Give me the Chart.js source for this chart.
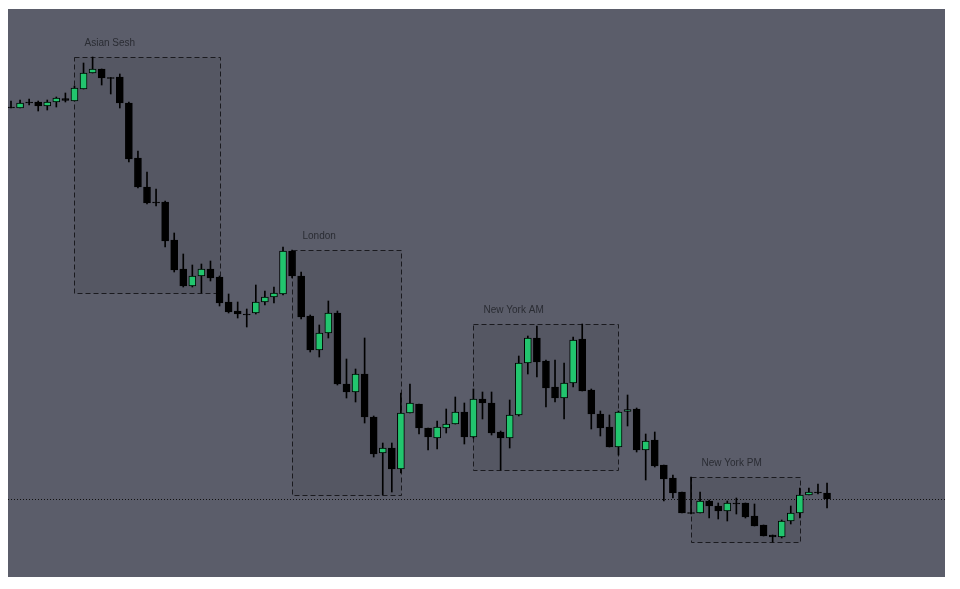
<!DOCTYPE html>
<html>
<head>
<meta charset="utf-8">
<title>Sessions</title>
<script src="https://cdn.jsdelivr.net/npm/chart.js@4.4.1/dist/chart.umd.min.js"></script>
<style>
    body { margin: 0; background: #ffffff; }
    #wrap { width: 960px; height: 589px; position: relative; }
</style>
</head>
<body>
<div id="wrap"><canvas id="chart"></canvas></div>
<script>
// candle data (price in points, one candle per bar)
var opens  = [493, 492, 498, 498, 494, 498, 501.5, 499, 511, 527, 531, 522.5, 523, 497, 442, 413, 398, 398, 360, 331,
              314, 324, 331, 323, 298, 289, 286, 287, 298, 303, 306, 349, 324, 284, 250, 267, 287, 216, 208, 226,
              183, 147, 152, 131, 187, 196, 172, 162, 172, 176, 188, 163, 201, 197, 168, 162, 185, 237, 262, 239,
              213, 202, 217, 261, 210, 186, 173, 153, 188.5, 191, 150, 160, 135, 122, 108, 87.5, 87, 99, 94, 89,
              97, 97, 84, 75, 65, 63, 79, 87, 105, 108, 107];
var highs  = [499, 500, 501, 499, 500, 503, 507, 514, 537, 543, 531, 522.5, 526, 498, 449, 428, 411, 399, 367, 346,
              335, 336, 339, 324, 306, 298, 291, 315, 309, 313, 353, 350, 328, 285, 275, 299, 289, 241, 231, 262,
              184, 157, 157, 207, 216, 196, 172, 179, 191, 203, 197, 211, 208, 208, 169, 200, 244, 264, 274, 240,
              240, 237, 263, 276, 211, 189, 185, 189, 205, 192, 166, 168, 135, 125, 108, 123, 108, 100, 97, 99,
              102, 97, 96, 75, 65, 80, 94, 112, 112, 116, 117];
var lows   = [492, 492, 495, 489, 490, 493, 498, 499, 511, 527, 515, 506, 492, 438, 412, 396, 394, 353, 328, 313,
              313, 307, 319, 294, 287, 282, 273, 286, 295, 297, 305, 322, 281, 248, 243, 262, 215, 202, 198, 177,
              143, 105, 108, 127, 187, 166, 150, 151, 167, 176, 156, 162, 181, 165, 130, 152, 184, 226, 223, 193,
              198, 181, 213, 209, 171, 164, 153, 145, 174, 148, 120, 133, 99, 102, 87, 86, 87, 82, 81, 79,
              86, 82, 74, 64, 58, 62, 76, 82, 105, 106, 92];
var closes = [492, 497, 497, 494, 498, 502, 499.5, 512, 527, 531, 522, 521.5, 497, 441, 413, 397, 397, 359, 330, 314,
              324, 331, 322, 297, 288, 286, 285, 298, 303, 307, 349, 324, 283, 250, 267, 287, 216, 208, 226, 183,
              146, 152, 131, 187, 197, 172, 163, 173, 176, 188, 163, 201, 197, 167, 162, 185, 237, 262, 238, 212,
              202, 217, 260, 209, 186, 172, 153, 188, 190.5, 150, 159, 134, 121, 107, 87, 86.5, 99, 94, 89, 97,
              96, 83, 74, 64, 63, 79, 87, 105, 108, 107, 101];

// sessions: first candle index and the index where the session closes
var sessionNames = ["Asian Sesh", "London", "New York AM", "New York PM"];
var sessionStart = [7, 31, 51, 75];
var sessionEnd   = [23, 43, 67, 87];

var GREEN = "#22c56e";
var BG = "#5b5d6a";

var bodies = [];
var wicks = [];
var bodyColors = [];
for (var i = 0; i < opens.length; i++) {
    bodies.push({ x: i, y: [Math.min(opens[i], closes[i]), Math.max(opens[i], closes[i])] });
    wicks.push({ x: i, y: [lows[i], highs[i]] });
    bodyColors.push(closes[i] > opens[i] ? GREEN : "#000000");
}

// grey panel, session boxes and last price line
var sessionPlugin = {
    id: "sessions",
    beforeDraw: function (chart) {
        var ctx = chart.ctx;
        var a = chart.chartArea;
        ctx.save();
        ctx.fillStyle = BG;
        ctx.fillRect(a.left, a.top, a.right - a.left, a.bottom - a.top);
        ctx.restore();
    },
    beforeDatasetsDraw: function (chart) {
        var ctx = chart.ctx;
        var xs = chart.scales.x;
        var ys = chart.scales.y;
        var a = chart.chartArea;
        ctx.save();
        for (var s = 0; s < sessionNames.length; s++) {
            var hi = -Infinity, lo = Infinity;
            for (var k = sessionStart[s]; k < sessionEnd[s]; k++) {
                hi = Math.max(hi, highs[k]);
                lo = Math.min(lo, lows[k]);
            }
            var x1 = Math.round(xs.getPixelForValue(sessionStart[s])) + 0.5;
            var x2 = Math.round(xs.getPixelForValue(sessionEnd[s])) + 0.5;
            var y1 = Math.round(ys.getPixelForValue(hi)) + 0.5;
            var y2 = Math.round(ys.getPixelForValue(lo)) + 0.5;
            ctx.fillStyle = "rgba(0,0,0,0.06)";
            ctx.fillRect(x1, y1, x2 - x1, y2 - y1);
            ctx.setLineDash([5, 3]);
            ctx.lineWidth = 1;
            ctx.strokeStyle = "#1a1a1f";
            ctx.strokeRect(x1, y1, x2 - x1, y2 - y1);
            ctx.setLineDash([]);
            ctx.fillStyle = "#2a2c33";
            ctx.font = "10px 'Liberation Sans', Arial, sans-serif";
            ctx.textBaseline = "middle";
            ctx.textAlign = "left";
            ctx.fillText(sessionNames[s], x1 + 10, y1 - 14);
        }
        // last close line
        var py = Math.round(ys.getPixelForValue(closes[closes.length - 1])) + 0.5;
        ctx.setLineDash([1, 2]);
        ctx.strokeStyle = "#111111";
        ctx.beginPath();
        ctx.moveTo(a.left, py);
        ctx.lineTo(a.right, py);
        ctx.stroke();
        ctx.restore();
    }
};

var ctx = document.getElementById("chart").getContext("2d");
new Chart(ctx, {
    type: "bar",
    data: {
        datasets: [{
            label: "body",
            data: bodies,
            backgroundColor: bodyColors,
            borderColor: "#000000",
            borderWidth: 1,
            borderSkipped: false,
            barThickness: 7,
            grouped: false,
            order: 0
        }, {
            label: "wick",
            data: wicks,
            backgroundColor: "#000000",
            borderWidth: 0,
            barThickness: 1,
            grouped: false,
            order: 1
        }]
    },
    options: {
        responsive: true,
        maintainAspectRatio: false,
        animation: false,
        layout: {
            padding: { left: 8, top: 9, right: 15, bottom: 12 }
        },
        plugins: {
            legend: { display: false },
            tooltip: { enabled: false }
        },
        scales: {
            x: {
                type: "linear",
                display: false,
                offset: false,
                min: -0.331,
                max: 103.01
            },
            y: {
                display: false,
                min: 23,
                max: 591
            }
        }
    },
    plugins: [sessionPlugin]
});
</script>
</body>
</html>
